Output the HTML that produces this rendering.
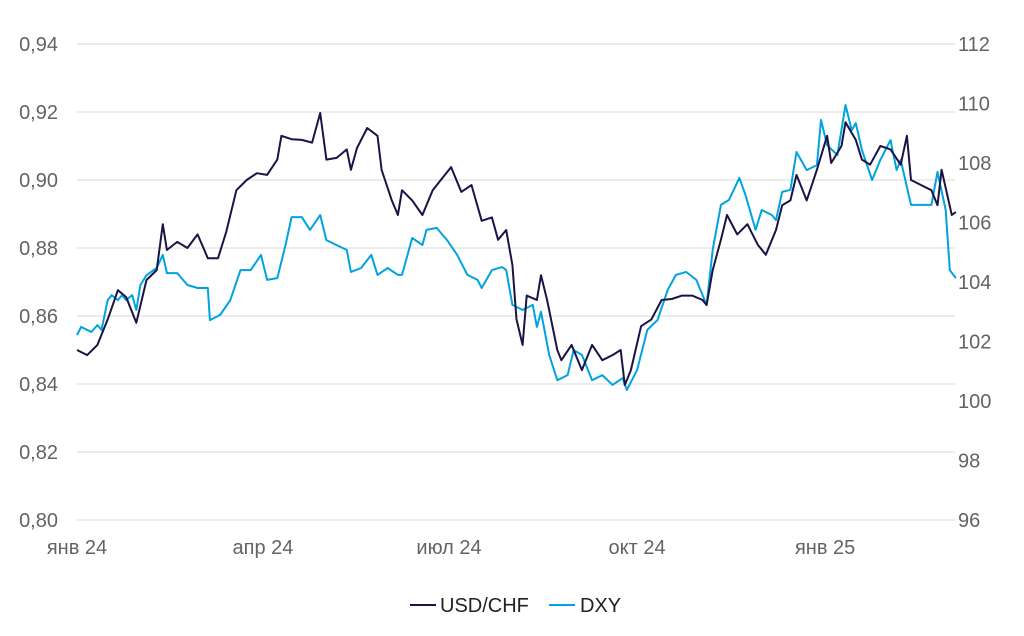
<!DOCTYPE html>
<html><head><meta charset="utf-8"><style>
body{margin:0;background:#fff;font-family:"Liberation Sans",Arial,sans-serif}
svg text{font-family:"Liberation Sans",Arial,sans-serif;fill:#636363;font-size:20px}
</style></head><body>
<svg id="chart" width="1024" height="631" viewBox="0 0 1024 631">
<g id="grid"></g>
<g id="ylabels"></g>
<g id="y2labels"></g>
<g id="xlabels"></g>
<path id="dxyLine" fill="none" stroke="#00a3e0" stroke-width="2" stroke-linejoin="round"/>
<path id="chfLine" fill="none" stroke="#1a1446" stroke-width="2" stroke-linejoin="round"/>
<g>
<line x1="410" y1="605" x2="436" y2="605" stroke="#1a1446" stroke-width="2"/>
<text x="440" y="612" style="fill:#222">USD/CHF</text>
<line x1="549" y1="605" x2="575" y2="605" stroke="#00a3e0" stroke-width="2"/>
<text x="580" y="612" style="fill:#222">DXY</text>
</g>
</svg>
<script>
const leftTicks=[0.80,0.82,0.84,0.86,0.88,0.90,0.92,0.94];
const rightTicks=[96,98,100,102,104,106,108,110,112];
const xTickDays=[0,91,182,274,366];
const xTickLabels=["янв 24","апр 24","июл 24","окт 24","янв 25"];
const chfDays=[0,5,10,15,20,24,29,34,39,42,44,49,54,59,64,69,73,78,83,88,93,98,100,105,110,115,119,122,127,132,134,137,142,147,149,154,157,159,164,169,174,178,183,188,193,198,203,206,210,213,215,218,220,225,227,230,235,237,242,247,252,257,262,266,268,271,276,281,286,291,296,301,306,308,311,315,318,323,328,333,337,342,345,349,352,357,362,367,369,374,376,381,384,388,393,398,403,406,408,413,418,421,423,428,430];
const chfValues=[0.850,0.8485,0.8515,0.859,0.8676,0.8656,0.858,0.8706,0.8735,0.887,0.8794,0.8818,0.880,0.884,0.877,0.877,0.8847,0.897,0.900,0.902,0.9015,0.906,0.913,0.912,0.9118,0.911,0.9197,0.906,0.9065,0.909,0.903,0.9094,0.9153,0.913,0.903,0.894,0.8897,0.897,0.894,0.8897,0.897,0.900,0.9038,0.8965,0.8985,0.888,0.889,0.8824,0.8853,0.875,0.859,0.8515,0.866,0.8647,0.872,0.8647,0.850,0.847,0.8515,0.8441,0.8515,0.847,0.8485,0.850,0.8397,0.8441,0.857,0.859,0.8647,0.865,0.866,0.866,0.8647,0.8632,0.8735,0.8824,0.8897,0.884,0.887,0.881,0.878,0.8853,0.8926,0.894,0.9015,0.894,0.903,0.913,0.905,0.910,0.917,0.9118,0.906,0.9045,0.910,0.909,0.9045,0.913,0.900,0.8985,0.897,0.8926,0.903,0.8897,0.8906];
const dxyDays=[0,2,7,10,12,15,17,20,22,24,27,29,31,34,39,42,44,49,54,59,64,65,70,75,80,85,90,93,98,102,105,110,114,119,122,127,132,134,139,144,147,152,157,159,164,169,171,176,181,186,191,196,198,203,208,210,213,218,223,225,227,231,235,240,243,247,252,257,262,267,269,274,279,284,289,293,298,303,308,311,315,319,324,327,332,335,340,342,345,349,352,357,362,364,367,372,376,379,381,384,389,393,398,401,403,408,413,418,421,425,427,430];
const dxyValues=[102.22,102.49,102.32,102.55,102.39,103.39,103.56,103.39,103.56,103.39,103.56,103.06,103.9,104.23,104.47,104.91,104.3,104.3,103.9,103.8,103.8,102.72,102.89,103.39,104.4,104.4,104.91,104.07,104.13,105.24,106.18,106.18,105.75,106.25,105.41,105.24,105.08,104.34,104.47,104.91,104.24,104.47,104.24,104.24,105.48,105.24,105.75,105.82,105.41,104.91,104.24,104.07,103.8,104.4,104.5,104.4,103.23,103.06,103.23,102.49,103,101.55,100.7,100.87,101.71,101.55,100.7,100.87,100.54,100.77,100.37,101.04,102.39,102.72,103.73,104.24,104.34,104.07,103.23,105.08,106.59,106.76,107.5,106.93,105.75,106.42,106.25,106.08,107.03,107.1,108.37,107.76,107.93,109.45,108.6,108.27,109.95,109.1,109.34,108.44,107.43,108.1,108.77,107.76,108.1,106.59,106.59,106.59,107.7,106.42,104.4,104.13];

const X0=77,X1=955,YT=44,YB=520;
const xs=d=>X0+d*2.044;
const yL=v=>YB-(v-0.80)/(0.14)*(YB-YT);
const yR=v=>YB-(v-96)/16*(YB-YT);
const NS="http://www.w3.org/2000/svg";
function mk(tag,attrs,parent,txt){const e=document.createElementNS(NS,tag);for(const k in attrs)e.setAttribute(k,attrs[k]);if(txt!==undefined)e.textContent=txt;parent.appendChild(e);return e;}
const grid=document.getElementById('grid'),yl=document.getElementById('ylabels'),y2=document.getElementById('y2labels'),xl=document.getElementById('xlabels');
leftTicks.forEach(v=>{
  const y=yL(v);
  const ln=mk('line',{x1:X0,x2:X1,y1:y,y2:y,stroke:'#d9d9d9','stroke-width':1},grid);
  
  
  const t=mk('text',{x:58,y:y+7,'text-anchor':'end'},yl,v.toFixed(2).replace('.',','));
  
  
});
rightTicks.forEach(v=>{
  const t=mk('text',{x:958,y:yR(v)+7},y2,String(v));
  
  
});
xTickDays.forEach((d,i)=>{
  const t=mk('text',{x:xs(d),y:554,'text-anchor':'middle'},xl,xTickLabels[i]);
  
  
});
document.getElementById('chfLine').setAttribute('d',chfDays.map((d,i)=>(i?'L':'M')+xs(d).toFixed(1)+' '+yL(chfValues[i]).toFixed(1)).join(''));
document.getElementById('dxyLine').setAttribute('d',dxyDays.map((d,i)=>(i?'L':'M')+xs(d).toFixed(1)+' '+yR(dxyValues[i]).toFixed(1)).join(''));
</script>
</body></html>
